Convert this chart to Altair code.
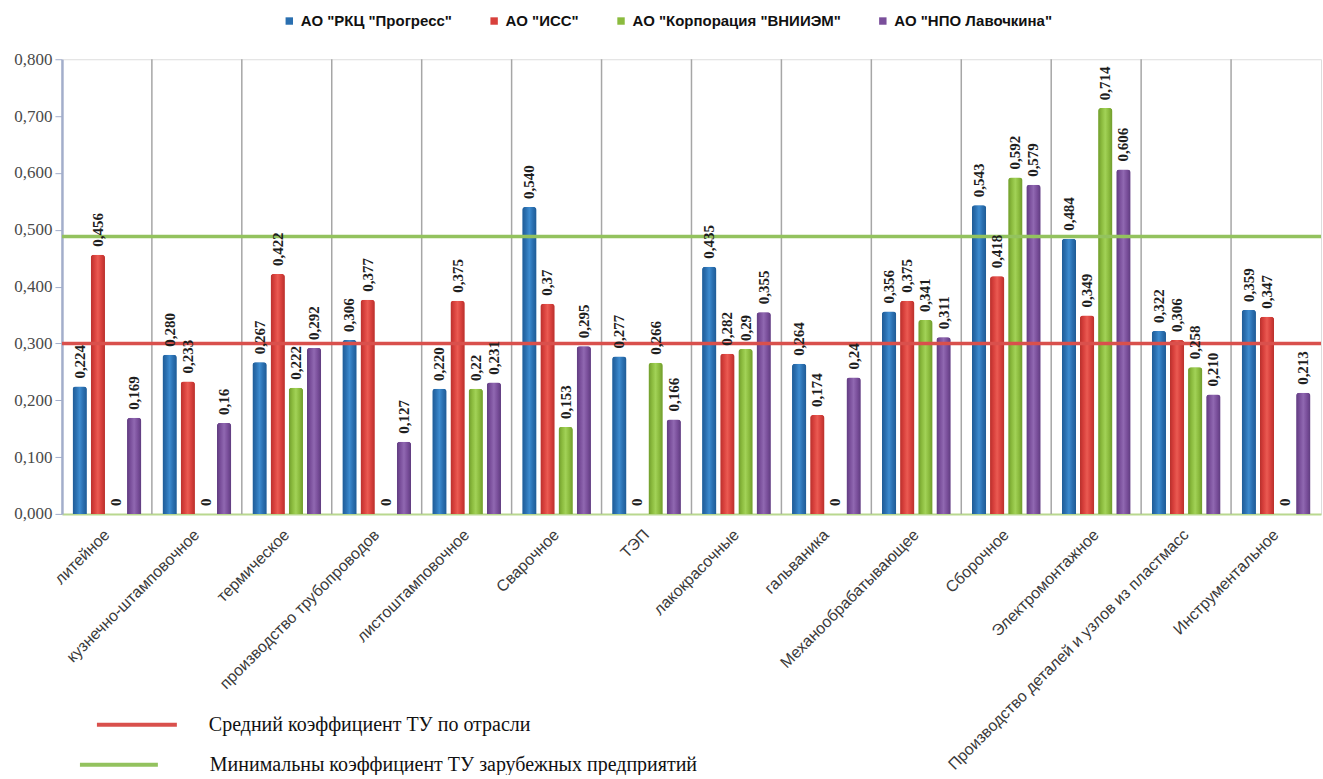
import altair as alt
import pandas as pd

# Production areas (x categories)
categories = [
    "литейное",
    "кузнечно-штамповочное",
    "термическое",
    "производство трубопроводов",
    "листоштамповочное",
    "Сварочное",
    "ТЭП",
    "лакокрасочные",
    "гальваника",
    "Механообрабатывающее",
    "Сборочное",
    "Электромонтажное",
    "Производство деталей и узлов из пластмасс",
    "Инструментальное",
]

companies = ['АО "РКЦ "Прогресс"', 'АО "ИСС"', 'АО "Корпорация "ВНИИЭМ"', 'АО "НПО Лавочкина"']
company_colors = ["#2a6fb0", "#d8403c", "#8bbb3e", "#7a4f9b"]
# edge / highlight shades for the cylinder look of each series
edge_colors = ["#1f5b95", "#b8302c", "#6f9a2c", "#5f3c7f"]
light_colors = ["#3d8bcf", "#ea5a52", "#a2d257", "#9068b1"]

# Coefficient values per company, written as they are printed on the bars
progress = ["0,224", "0,280", "0,267", "0,306", "0,220", "0,540", "0,277",
            "0,435", "0,264", "0,356", "0,543", "0,484", "0,322", "0,359"]
iss = ["0,456", "0,233", "0,422", "0,377", "0,375", "0,37", "0",
       "0,282", "0,174", "0,375", "0,418", "0,349", "0,306", "0,347"]
vniiem = ["0", "0", "0,222", "0", "0,22", "0,153", "0,266",
          "0,29", "0", "0,341", "0,592", "0,714", "0,258", "0"]
lavochkin = ["0,169", "0,16", "0,292", "0,127", "0,231", "0,295", "0,166",
             "0,355", "0,24", "0,311", "0,579", "0,606", "0,210", "0,213"]

# Reference levels
avg_name = "Средний коэффициент ТУ по отрасли"
avg_value = 0.300
avg_color = "#d9504c"
min_name = "Минимальны коэффициент ТУ зарубежных предприятий"
min_value = 0.488
min_color = "#93c25e"

y_ticks = [0.0, 0.1, 0.2, 0.3, 0.4, 0.5, 0.6, 0.7, 0.8]

rows = []
for i, cat in enumerate(categories):
    for comp, series in zip(companies, [progress, iss, vniiem, lavochkin]):
        txt = series[i]
        rows.append({"cat": cat, "company": comp, "label": txt,
                     "value": float(txt.replace(",", "."))})
bars_df = pd.DataFrame(rows)
sep_df = pd.DataFrame({"cat": categories[1:]})
avg_df = pd.DataFrame({"name": [avg_name], "value": [avg_value]})
min_df = pd.DataFrame({"name": [min_name], "value": [min_value]})

x_scale = alt.Scale(domain=categories, paddingInner=0.237, paddingOuter=0.1185)
y_scale = alt.Scale(domain=[0, 0.8], nice=False)
offset_scale = alt.Scale(domain=companies, paddingInner=0.22, paddingOuter=0)

serif = "Liberation Serif, Times New Roman, serif"

x_enc = alt.X(
    "cat:N", scale=x_scale, sort=None,
    axis=alt.Axis(title=None, labelAngle=-45, labelAlign="right", labelBaseline="middle",
                  labelPadding=18, ticks=False, domainColor="#b9d88f", domainWidth=2,
                  labelFont="Liberation Sans", labelFontSize=16, labelColor="#3a3a3a",
                  labelLimit=500),
)
x_plain = alt.X("cat:N", scale=x_scale, sort=None, axis=None)
y_axis = alt.Axis(title=None, values=y_ticks, grid=False,
                  labelExpr="replace(format(datum.value, '.3f'), '.', ',')",
                  labelFont=serif, labelFontSize=17, labelColor="#4a4a4a",
                  domainColor="#a3aecb", domainWidth=2.5, tickColor="#a3aecb",
                  tickSize=7, labelPadding=3)
y_enc = alt.Y("value:Q", scale=y_scale, axis=y_axis)
offset_enc = alt.XOffset("company:N", scale=offset_scale, sort=companies)

# Vertical separators between production areas: a plain band scale whose
# band starts fall on the category boundaries
separators = alt.Chart(sep_df).mark_rule(color="#a6a6a6", strokeWidth=1.5).encode(
    x=alt.X("cat:N", sort=None, bandPosition=0, axis=None,
            scale=alt.Scale(domain=categories, paddingInner=0, paddingOuter=0)),
)

# Flat bars carrying the company legend
bars = alt.Chart(bars_df).mark_bar(cornerRadiusTopLeft=3, cornerRadiusTopRight=3).encode(
    x=x_enc,
    xOffset=offset_enc,
    y=y_enc,
    color=alt.Color(
        "company:N", sort=companies,
        scale=alt.Scale(domain=companies, range=company_colors),
        legend=alt.Legend(
            title=None, orient="none", direction="horizontal", legendX=220, legendY=-46,
            symbolType="square", symbolSize=55, symbolStrokeWidth=0,
            labelFont="Liberation Sans Narrow, Liberation Sans", labelFontWeight="bold",
            labelFontSize=15, labelColor="#111111", columnPadding=34, labelOffset=4,
            labelLimit=400,
        ),
    ),
)

# Shaded overlay per company
shaded = []
for comp, base, edge, light in zip(companies, company_colors, edge_colors, light_colors):
    grad = alt.LinearGradient(
        gradient="linear", x1=0, x2=1, y1=0, y2=0,
        stops=[alt.GradientStop(color=edge, offset=0),
               alt.GradientStop(color=base, offset=0.25),
               alt.GradientStop(color=light, offset=0.5),
               alt.GradientStop(color=base, offset=0.75),
               alt.GradientStop(color=edge, offset=1)],
    )
    shaded.append(
        alt.Chart(bars_df).transform_filter(alt.datum.company == comp)
        .mark_bar(color=grad, cornerRadiusTopLeft=3, cornerRadiusTopRight=3)
        .encode(x=x_plain, xOffset=offset_enc, y=y_enc)
    )

labels = alt.Chart(bars_df).mark_text(
    angle=270, align="left", baseline="middle", dx=8,
    font=serif, fontWeight="bold", fontSize=15, color="#1e1e1e",
).encode(x=x_plain, xOffset=offset_enc, y=y_enc, text="label:N")

avg_line = alt.Chart(avg_df).mark_rule(strokeWidth=3.5).encode(
    y=y_enc,
    stroke=alt.Stroke(
        "name:N", scale=alt.Scale(domain=[avg_name], range=[avg_color]),
        legend=alt.Legend(
            title=None, orient="none", legendX=33, legendY=624,
            symbolType="stroke", symbolSize=6400, symbolStrokeWidth=4,
            labelFont=serif, labelFontSize=20, labelColor="#111111",
            labelOffset=30, labelLimit=800,
        ),
    ),
)

min_line = alt.Chart(min_df).mark_rule(strokeWidth=3.5, color=min_color).encode(
    y=y_enc,
    strokeDash=alt.StrokeDash(
        "name:N", scale=alt.Scale(domain=[min_name], range=[[1, 0]]),
        legend=alt.Legend(
            title=None, orient="none", legendX=16, legendY=665,
            symbolType="stroke", symbolSize=6084, symbolStrokeWidth=4,
            symbolStrokeColor=min_color,
            labelFont=serif, labelFontSize=20, labelColor="#111111",
            labelOffset=50, labelLimit=800,
        ),
    ),
)

chart = (
    alt.layer(separators, bars, *shaded, avg_line, min_line, labels)
    .resolve_scale(x="independent")
    .properties(width=1260, height=455,
                padding={"left": 13, "top": 13, "right": 0, "bottom": 0})
    .configure_view(stroke=None)
    .configure(background="white")
)

chart.save("out.html", embed_options={"renderer": "svg", "actions": False})
